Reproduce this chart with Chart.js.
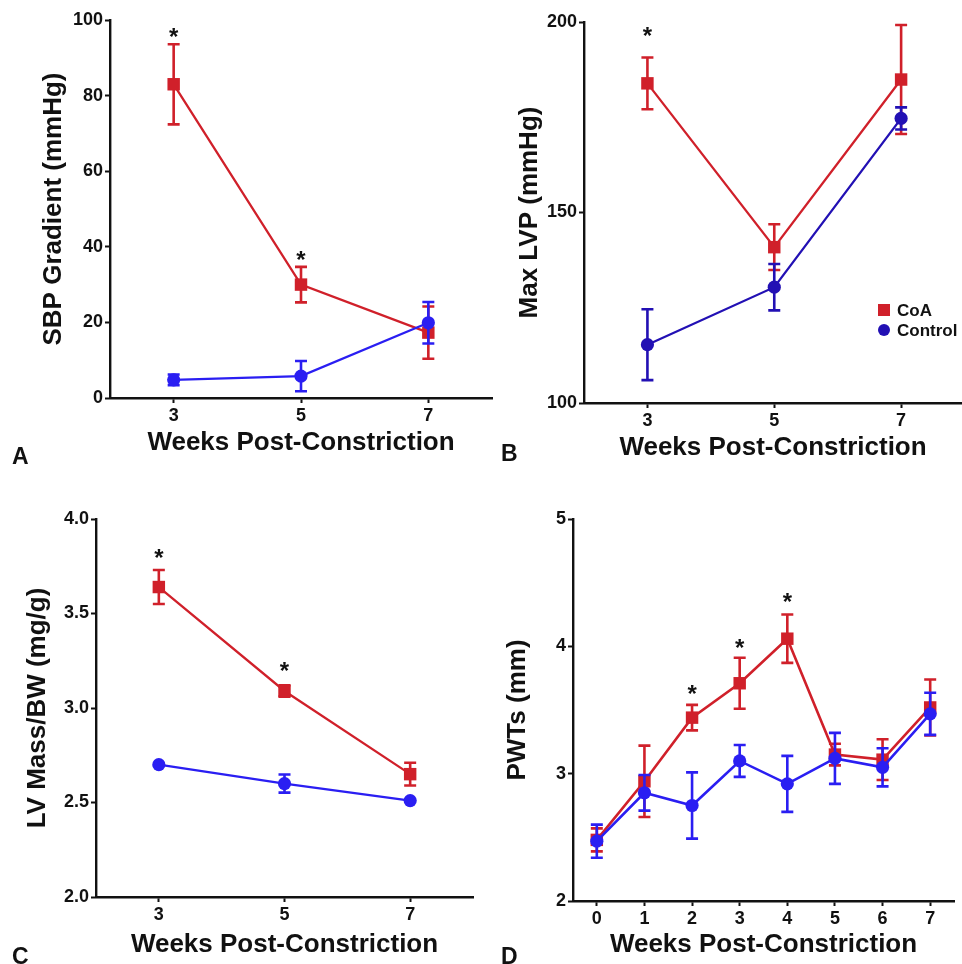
<!DOCTYPE html>
<html>
<head>
<meta charset="utf-8">
<script src="https://cdn.jsdelivr.net/npm/chart.js@4.4.1/dist/chart.umd.min.js"></script>
<style>
  html, body { margin: 0; padding: 0; background: #fff; }
  #wrap { position: relative; width: 962px; height: 964px; overflow: hidden; font-family: "Liberation Sans", Arial, Helvetica, sans-serif; }
  canvas { position: absolute; }
  .letter { position: absolute; font-weight: bold; font-size: 23px; line-height: 23px; color: #111; }
  .leg { position: absolute; font-weight: bold; font-size: 17px; line-height: 17px; color: #111; white-space: nowrap; }
  .mk { position: absolute; width: 12px; height: 12px; }
</style>
</head>
<body>
<div id="wrap">
  <canvas id="cA" width="495" height="481" style="left:0px;top:0px"></canvas>
  <canvas id="cB" width="481" height="481" style="left:481px;top:0px"></canvas>
  <canvas id="cC" width="481" height="483" style="left:0px;top:481px"></canvas>
  <canvas id="cD" width="481" height="483" style="left:481px;top:481px"></canvas>
  <div class="letter" style="left:12px;top:445px">A</div>
  <div class="letter" style="left:501px;top:442px">B</div>
  <div class="letter" style="left:12px;top:945px">C</div>
  <div class="letter" style="left:501px;top:945px">D</div>
  <div class="mk" style="left:878px;top:304px;background:#d0202a"></div>
  <div class="leg" style="left:897px;top:302px">CoA</div>
  <div class="mk" style="left:878px;top:324px;background:#2210b4;border-radius:50%"></div>
  <div class="leg" style="left:897px;top:322px">Control</div>
</div>
<script>
// ---------------- data ----------------
const weeks3 = [3, 5, 7];
const weeksD = [0, 1, 2, 3, 4, 5, 6, 7];
const xTicks3 = [3, 5, 7];
const xTicksD = [0, 1, 2, 3, 4, 5, 6, 7];

// Panel A: SBP Gradient (mmHg)
const sbpCoA = [83.0, 30.0, 17.3];
const sbpCoAErr = [10.6, 4.7, 6.9];
const sbpCtrl = [4.8, 5.8, 19.9];
const sbpCtrlErr = [1.4, 4.0, 5.5];
const sbpTicks = [0, 20, 40, 60, 80, 100];
const sbpStarsX = [3, 5];
const sbpStarsY = [96.8, 37.7];

// Panel B: Max LVP (mmHg)
const lvpCoA = [183.9, 140.9, 184.9];
const lvpCoAErr = [6.8, 6.0, 14.3];
const lvpCtrl = [115.3, 130.4, 174.7];
const lvpCtrlErr = [9.3, 6.1, 2.9];
const lvpTicks = [100, 150, 200];
const lvpStarsX = [3];
const lvpStarsY = [197.5];

// Panel C: LV Mass/BW (mg/g)
const massCoA = [3.64, 3.09, 2.65];
const massCoAErr = [0.09, 0.03, 0.06];
const massCtrl = [2.70, 2.60, 2.51];
const massCtrlErr = [0, 0.048, 0];
const massTicks = [2.0, 2.5, 3.0, 3.5, 4.0];
const massStarsX = [3, 5];
const massStarsY = [3.82, 3.22];

// Panel D: PWTs (mm)
const pwtCoA = [2.48, 2.94, 3.44, 3.71, 4.06, 3.15, 3.11, 3.52];
const pwtCoAErr = [0.09, 0.28, 0.10, 0.20, 0.19, 0.085, 0.16, 0.22];
const pwtCtrl = [2.47, 2.85, 2.75, 3.10, 2.92, 3.12, 3.05, 3.47];
const pwtCtrlErr = [0.13, 0.14, 0.26, 0.125, 0.22, 0.20, 0.15, 0.165];
const pwtTicks = [2, 3, 4, 5];
const pwtStarsX = [2, 3, 4];
const pwtStarsY = [3.66, 4.02, 4.38];

// ---------------- drawing ----------------
const FONT = '"Liberation Sans", Arial, Helvetica, sans-serif';
Chart.defaults.font.family = FONT;
Chart.defaults.color = '#111';

const RED = '#d0202a';
const BLUE = '#2a1ef2';
const DBLUE = '#2210b4';

const errPlugin = {
  id: 'errbars',
  beforeDatasetDraw(chart, args) {
    const ds = chart.data.datasets[args.index];
    if (!ds.errors) return;
    const xs = chart.scales.x, ys = chart.scales.y, ctx = chart.ctx;
    ctx.save();
    ctx.strokeStyle = ds.borderColor;
    ctx.lineWidth = 2.6;
    ds.data.forEach((p, i) => {
      const e = ds.errors[i];
      if (!e) return;
      const x = xs.getPixelForValue(p.x);
      const yt = ys.getPixelForValue(p.y + e);
      const yb = ys.getPixelForValue(p.y - e);
      ctx.beginPath();
      ctx.moveTo(x, yt); ctx.lineTo(x, yb);
      ctx.moveTo(x - 6, yt); ctx.lineTo(x + 6, yt);
      ctx.moveTo(x - 6, yb); ctx.lineTo(x + 6, yb);
      ctx.stroke();
    });
    ctx.restore();
  }
};

const starPlugin = {
  id: 'stars',
  afterDatasetsDraw(chart, args, opts) {
    if (!opts || !opts.x) return;
    const xs = chart.scales.x, ys = chart.scales.y, ctx = chart.ctx;
    ctx.save();
    ctx.font = 'bold 24px ' + FONT;
    ctx.fillStyle = '#111';
    ctx.textAlign = 'center';
    ctx.textBaseline = 'alphabetic';
    const m = ctx.measureText('*');
    const off = (m.actualBoundingBoxAscent - m.actualBoundingBoxDescent) / 2;
    opts.x.forEach((xv, i) => {
      const px = xs.getPixelForValue(xv);
      const py = ys.getPixelForValue(opts.y[i]);
      ctx.fillText('*', px, py + off);
    });
    ctx.restore();
  }
};

function panel(id, c) {
  const datasets = c.series.map(s => ({
    label: s.label,
    data: s.x.map((x, i) => ({ x: x, y: s.y[i] })),
    errors: s.err,
    borderColor: s.color,
    backgroundColor: s.color,
    pointBackgroundColor: s.color,
    pointStyle: s.style,
    pointRadius: s.style === 'rect' ? 8.8 : 6.6,
    pointHoverRadius: s.style === 'rect' ? 8.8 : 6.6,
    pointBorderWidth: 0,
    borderWidth: c.lineWidth,
    order: s.order,
    clip: false,
    tension: 0
  }));
  const axisCommon = {
    border: { color: '#111', width: 2.4 },
    grid: { drawOnChartArea: false, tickLength: 5, tickWidth: 2, tickColor: '#111' },
  };
  new Chart(document.getElementById(id), {
    type: 'line',
    data: { datasets: datasets },
    options: {
      responsive: false,
      animation: false,
      events: [],
      layout: { padding: c.pad, autoPadding: false },
      plugins: {
        legend: { display: false },
        tooltip: { enabled: false },
        stars: { x: c.starsX, y: c.starsY }
      },
      scales: {
        x: Object.assign({}, axisCommon, {
          type: 'linear',
          min: c.xMin, max: c.xMax,
          afterBuildTicks: sc => { sc.ticks = c.xTicks.map(v => ({ value: v })); },
          afterFit: sc => { sc.height = c.xHeight; sc.paddingLeft = 0; sc.paddingRight = 0; },
          ticks: { font: { size: 18, weight: 'bold' }, color: '#111', padding: 2, maxRotation: 0, callback: v => String(v) },
          title: { display: true, text: 'Weeks Post-Constriction', color: '#111', font: { size: 26, weight: 'bold' }, padding: { top: 4, bottom: 4 } }
        }),
        y: Object.assign({}, axisCommon, {
          type: 'linear',
          min: c.yMin, max: c.yMax,
          afterBuildTicks: sc => { sc.ticks = c.yTicks.map(v => ({ value: v })); },
          afterFit: sc => { sc.width = c.yWidth; },
          ticks: { font: { size: 18, weight: 'bold' }, color: '#111', padding: 2, callback: v => c.yFmt ? c.yFmt(v) : String(v) },
          title: { display: true, text: c.yTitle, color: '#111', font: { size: 26, weight: 'bold' }, padding: { top: 4, bottom: 4 } }
        })
      }
    },
    plugins: [errPlugin, starPlugin]
  });
}

panel('cA', {
  pad: { left: 34, top: 20, right: 3, bottom: 19 },
  yWidth: 76, xHeight: 64,
  xMin: 2, xMax: 8, xTicks: xTicks3,
  yMin: 0, yMax: 100, yTicks: sbpTicks, yTitle: 'SBP Gradient (mmHg)',
  lineWidth: 2.3,
  starsX: sbpStarsX, starsY: sbpStarsY,
  series: [
    { label: 'CoA', x: weeks3, y: sbpCoA, err: sbpCoAErr, color: RED, style: 'rect', order: 2 },
    { label: 'Control', x: weeks3, y: sbpCtrl, err: sbpCtrlErr, color: BLUE, style: 'circle', order: 1 }
  ]
});

panel('cB', {
  pad: { left: 29, top: 22, right: 0, bottom: 14 },
  yWidth: 74, xHeight: 64,
  xMin: 2, xMax: 7.96, xTicks: xTicks3,
  yMin: 100, yMax: 200, yTicks: lvpTicks, yTitle: 'Max LVP (mmHg)',
  lineWidth: 2.3,
  starsX: lvpStarsX, starsY: lvpStarsY,
  series: [
    { label: 'CoA', x: weeks3, y: lvpCoA, err: lvpCoAErr, color: RED, style: 'rect', order: 2 },
    { label: 'Control', x: weeks3, y: lvpCtrl, err: lvpCtrlErr, color: DBLUE, style: 'circle', order: 1 }
  ]
});

panel('cC', {
  pad: { left: 18, top: 38, right: 8, bottom: 0 },
  yWidth: 78, xHeight: 67,
  xMin: 2, xMax: 8, xTicks: xTicks3,
  yMin: 2, yMax: 4, yTicks: massTicks, yTitle: 'LV Mass/BW (mg/g)',
  yFmt: v => v.toFixed(1),
  lineWidth: 2.3,
  starsX: massStarsX, starsY: massStarsY,
  series: [
    { label: 'CoA', x: weeks3, y: massCoA, err: massCoAErr, color: RED, style: 'rect', order: 2 },
    { label: 'Control', x: weeks3, y: massCtrl, err: massCtrlErr, color: BLUE, style: 'circle', order: 1 }
  ]
});

panel('cD', {
  pad: { left: 17, top: 38, right: 8, bottom: 0 },
  yWidth: 75, xHeight: 63,
  xMin: -0.5, xMax: 7.5, xTicks: xTicksD,
  yMin: 2, yMax: 5, yTicks: pwtTicks, yTitle: 'PWTs (mm)',
  lineWidth: 2.6,
  starsX: pwtStarsX, starsY: pwtStarsY,
  series: [
    { label: 'CoA', x: weeksD, y: pwtCoA, err: pwtCoAErr, color: RED, style: 'rect', order: 2 },
    { label: 'Control', x: weeksD, y: pwtCtrl, err: pwtCtrlErr, color: BLUE, style: 'circle', order: 1 }
  ]
});
</script>
</body>
</html>
